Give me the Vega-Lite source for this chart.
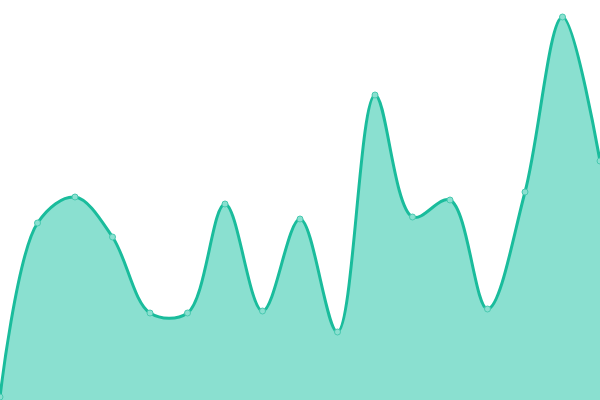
{
  "$schema": "https://vega.github.io/schema/vega-lite/v6.json",
  "width": 600,
  "height": 400,
  "autosize": {"type": "none"},
  "padding": 0,
  "data": {
    "values": [
      {"i": 0, "v": 3},
      {"i": 1, "v": 177},
      {"i": 2, "v": 203},
      {"i": 3, "v": 163},
      {"i": 4, "v": 87},
      {"i": 5, "v": 87},
      {"i": 6, "v": 196},
      {"i": 7, "v": 89},
      {"i": 8, "v": 181},
      {"i": 9, "v": 68},
      {"i": 10, "v": 305},
      {"i": 11, "v": 183},
      {"i": 12, "v": 200},
      {"i": 13, "v": 91},
      {"i": 14, "v": 208},
      {"i": 15, "v": 383},
      {"i": 16, "v": 239}
    ]
  },
  "encoding": {
    "x": {"field": "i", "type": "quantitative", "axis": null, "scale": {"domain": [0, 16], "nice": false, "zero": false}},
    "y": {"field": "v", "type": "quantitative", "axis": null, "scale": {"domain": [0, 400], "nice": false}}
  },
  "layer": [
    {
      "mark": {"type": "area", "interpolate": "catmull-rom", "color": "#8ae0d0", "opacity": 1, "line": {"color": "#1abc9c", "strokeWidth": 3}}
    },
    {
      "mark": {"type": "point", "filled": true, "size": 36, "fill": "#8ae0d0", "stroke": "#48c9b0", "strokeWidth": 1, "opacity": 1}
    }
  ],
  "config": {"view": {"stroke": null}}
}
